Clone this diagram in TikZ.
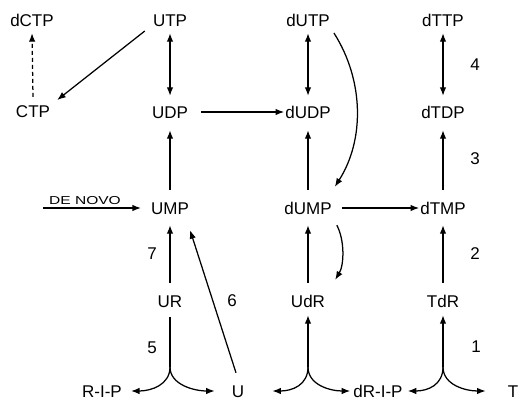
\documentclass[tikz,border=0pt]{standalone}
\usepackage{fontspec}
\setmainfont{Liberation Sans}
\usetikzlibrary{arrows.meta}
\begin{document}
\begin{tikzpicture}[x=1pt,y=-1pt,
  lab/.style={font=\fontsize{17}{17}\selectfont, inner sep=0pt, text height=12pt, text depth=0pt},
  link/.style={line width=1.25pt, -{Latex[length=8.5pt,width=6.5pt]}},
  both/.style={line width=1.25pt, {Latex[length=8.5pt,width=6.5pt]}-{Latex[length=8.5pt,width=6.5pt]}},
  plain/.style={line width=1.25pt},
  dash link/.style={link, dash pattern=on 4pt off 3pt}]
\useasboundingbox (0,0) rectangle (520,400);
% nodes
\node[lab] (dCTP) at (32,20) {dCTP};
\node[lab] (UTP) at (170,20) {UTP};
\node[lab] (CTP) at (33,111) {CTP};
\node[lab] (UDP) at (170,112) {UDP};
\node[lab] (dUTP) at (308,20) {dUTP};
\node[lab] (dUDP) at (308,112) {dUDP};
\node[lab] (dTTP) at (443,20) {dTTP};
\node[lab] (dTDP) at (443,112) {dTDP};
\node[lab] (UMP) at (170,208) {UMP};
\node[lab] (dUMP) at (308,208) {dUMP};
\node[lab] (dTMP) at (443,208) {dTMP};
\node[lab] (UR) at (170,301) {UR};
\node[lab] (UdR) at (308,301) {UdR};
\node[lab] (TdR) at (443,301) {TdR};
\node[lab] (RIP) at (102,391) {R-I-P};
\node[lab] (U) at (238,391) {U};
\node[lab] (dRIP) at (378,391) {dR-I-P};
\node[lab] (T) at (513,391) {T};
\node[font=\fontsize{11.5}{11.5}\selectfont, inner sep=0pt, text height=8.2pt, text depth=0pt, anchor=south] (denovo) at (85,205) {\scalebox{1.35}[1]{DE NOVO}};
% numbers
\node[lab] (n4) at (475,64) {4};
\node[lab] (n3) at (475,158) {3};
\node[lab] (n2) at (475,253) {2};
\node[lab] (n1) at (476,346) {1};
\node[lab] (n7) at (152,253) {7};
\node[lab] (n6) at (232,300) {6};
\node[lab] (n5) at (152,347) {5};
% junctions
\coordinate (jR) at (170,367);
\coordinate (jU) at (308,367);
\coordinate (jT) at (443,367);
% connectors
\draw[dash link] ([yshift=8pt]CTP.north) -- ([yshift=-7pt]dCTP.south);
\draw[link] ([xshift=-8pt,yshift=-11pt]UTP.west) -- ([xshift=7pt,yshift=11pt]CTP.east);
\draw[both] ([yshift=-7pt]UTP.south) -- ([yshift=10pt]UDP.north);
\draw[link] ([yshift=12pt]UMP.north) -- ([yshift=-12pt]UDP.south);
\draw[link] ([xshift=13pt]UDP.east) -- ([xshift=-1pt]dUDP.west);
\draw[both] ([yshift=-7pt]dUTP.south) -- ([yshift=10pt]dUDP.north);
\draw[link] ([yshift=12pt]dUMP.north) -- ([yshift=-12pt]dUDP.south);
\draw[link] ([xshift=4pt,yshift=-13pt]dUTP.east) .. controls +(30,47) and +(30,-47) .. ([xshift=3pt,yshift=15pt]dUMP.north east);
\draw[both] ([yshift=-7pt]dTTP.south) -- ([yshift=10pt]dTDP.north);
\draw[link] ([yshift=12pt]dTMP.north) -- ([yshift=-12pt]dTDP.south);
\draw[link] ([xshift=10pt]dUMP.east) -- ([xshift=-1pt]dTMP.west);
\draw[link] ([xshift=5pt,yshift=-11pt]dUMP.south east) .. controls +(8,15) and +(9,-15) .. ([xshift=10pt,yshift=15pt]UdR.north east);
\draw[link] ([yshift=12pt]UR.north) -- ([yshift=-11pt]UMP.south);
\draw[link] ([yshift=12pt]UdR.north) -- ([yshift=-11pt]dUMP.south);
\draw[link] ([yshift=12pt]TdR.north) -- ([yshift=-11pt]dTMP.south);
\draw[link] ([xshift=-6pt,yshift=-3pt]denovo.south west) -- ([xshift=-10pt]UMP.west);
\draw[link] ([xshift=-2pt,yshift=12pt]U.north) -- ([xshift=1pt,yshift=-16pt]UMP.south east);
% branch points
\draw[plain] (jR) -- ([yshift=-10pt]UR.south);
\draw[link] (jR) .. controls +(0,18) and +(20,0) .. ([xshift=9pt]RIP.east);
\draw[link] (jR) .. controls +(0,18) and +(-20,0) .. ([xshift=-17pt]U.west);
\draw[link] (jU) -- ([yshift=-8pt]UdR.south);
\draw[link] (jU) .. controls +(0,18) and +(20,0) .. ([xshift=28pt]U.east);
\draw[link] (jU) .. controls +(0,18) and +(-20,0) .. ([xshift=-3pt]dRIP.west);
\draw[link] (jT) -- ([yshift=-8pt]TdR.south);
\draw[link] (jT) .. controls +(0,18) and +(20,0) .. ([xshift=5pt]dRIP.east);
\draw[link] (jT) .. controls +(0,18) and +(-20,0) .. ([xshift=-22pt]T.west);
\end{tikzpicture}
\end{document}
